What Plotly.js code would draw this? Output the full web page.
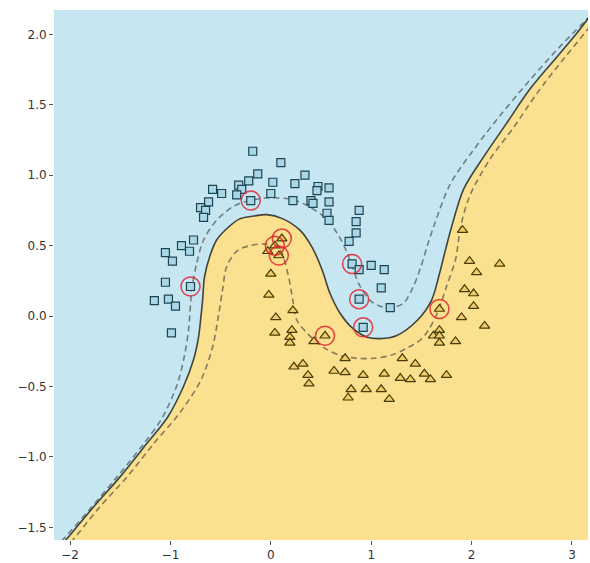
<!DOCTYPE html>
<html>
<head>
<meta charset="utf-8">
<script src="https://cdn.plot.ly/plotly-3.0.1.min.js"></script>
<style>html,body{margin:0;padding:0;background:#fff;}#chart{width:590px;height:563px;}</style>
</head>
<body>
<div id="chart"></div>
<script>
// Decision boundary (solid)
var bx = [-2.13,-2.03,-1.76,-1.50,-1.23,-1.03,-0.87,-0.77,-0.72,-0.70,-0.68,-0.66,-0.61,-0.54,-0.44,-0.31,-0.17,-0.04,0.12,0.29,0.41,0.51,0.59,0.69,0.82,0.96,1.09,1.25,1.46,1.60,1.68,1.74,1.80,1.92,2.12,2.35,2.58,2.85,3.05,3.20];
var by = [-1.66,-1.58,-1.35,-1.14,-0.90,-0.72,-0.50,-0.31,-0.15,-0.03,0.11,0.28,0.42,0.54,0.62,0.69,0.71,0.72,0.69,0.61,0.49,0.33,0.16,0.02,-0.09,-0.15,-0.16,-0.14,-0.03,0.11,0.30,0.47,0.63,0.90,1.13,1.37,1.61,1.84,2.01,2.15];
// Upper margin (dashed)
var ux = [-2.15,-2.06,-1.79,-1.53,-1.27,-1.08,-0.93,-0.86,-0.82,-0.80,-0.785,-0.74,-0.67,-0.54,-0.37,-0.21,-0.01,0.19,0.32,0.52,0.66,0.76,0.82,0.89,0.99,1.09,1.19,1.32,1.42,1.49,1.56,1.63,1.79,2.02,2.28,2.55,2.85,3.11,3.24];
var uy = [-1.65,-1.58,-1.36,-1.14,-0.91,-0.72,-0.48,-0.28,-0.10,0.08,0.20,0.37,0.54,0.68,0.78,0.82,0.84,0.83,0.80,0.71,0.59,0.45,0.33,0.21,0.11,0.07,0.06,0.09,0.21,0.34,0.50,0.65,0.94,1.18,1.42,1.65,1.89,2.08,2.17];
// Lower margin (dashed)
var lx = [-2.06,-1.96,-1.71,-1.43,-1.16,-0.91,-0.70,-0.58,-0.52,-0.48,-0.44,-0.34,-0.21,-0.04,0.09,0.17,0.22,0.26,0.36,0.52,0.69,0.86,1.02,1.19,1.35,1.49,1.57,1.67,1.75,1.84,1.89,1.98,2.18,2.42,2.65,2.91,3.15,3.28];
var ly = [-1.66,-1.58,-1.36,-1.14,-0.90,-0.69,-0.46,-0.22,0.01,0.19,0.35,0.46,0.50,0.51,0.47,0.30,0.11,-0.03,-0.12,-0.22,-0.28,-0.30,-0.30,-0.28,-0.23,-0.17,-0.10,0.04,0.21,0.40,0.63,0.85,1.11,1.34,1.58,1.82,2.03,2.16];

// Class 0 (squares)
var sqX = [-0.18,0.10,-0.13,-0.22,-0.32,-0.29,0.02,0.34,0.24,0.47,0.46,0.58,0.00,-0.58,-0.49,-0.34,-0.20,0.22,0.40,0.42,0.58,-0.62,-0.70,-0.65,-0.67,0.56,0.58,-0.77,-0.89,-0.81,-1.05,-0.98,-1.05,-0.80,-1.16,-1.02,-0.95,-0.99,0.88,0.85,0.85,0.78,0.81,0.88,1.00,1.13,1.10,0.88,1.19,0.92];
var sqY = [1.17,1.09,1.01,0.96,0.93,0.90,0.95,1.00,0.94,0.92,0.89,0.91,0.87,0.90,0.87,0.86,0.82,0.82,0.82,0.80,0.81,0.81,0.77,0.75,0.70,0.73,0.68,0.54,0.50,0.46,0.45,0.39,0.24,0.21,0.11,0.12,0.07,-0.12,0.75,0.67,0.59,0.53,0.37,0.33,0.36,0.33,0.20,0.12,0.06,-0.08];
// Class 1 (triangles)
var trX = [0.11,0.04,-0.03,0.08,0.00,-0.02,0.22,0.05,0.04,0.21,0.19,0.19,0.43,0.54,0.74,0.23,0.32,0.37,0.38,0.63,0.74,0.92,0.80,0.95,0.77,1.13,1.10,1.18,1.31,1.44,1.29,1.39,1.53,1.59,1.75,1.68,1.91,1.98,2.28,2.05,1.93,2.02,2.02,1.90,2.13,1.68,1.62,1.68,1.68,1.84];
var trY = [0.55,0.50,0.46,0.43,0.30,0.15,0.04,-0.01,-0.12,-0.10,-0.15,-0.19,-0.18,-0.14,-0.30,-0.36,-0.34,-0.42,-0.48,-0.39,-0.40,-0.42,-0.52,-0.52,-0.58,-0.41,-0.52,-0.59,-0.30,-0.34,-0.44,-0.45,-0.41,-0.45,-0.42,0.05,0.61,0.39,0.37,0.31,0.19,0.16,0.07,-0.01,-0.07,-0.10,-0.14,-0.14,-0.19,-0.18];
// Support vectors
var svX = [-0.20,-0.80,0.81,0.88,0.92,0.11,0.04,0.08,0.54,1.68];
var svY = [0.82,0.21,0.37,0.12,-0.08,0.55,0.50,0.43,-0.14,0.05];

var xr = [-2.16, 3.16];
var yr = [-1.59, 2.173];

var fx = bx.concat([xr[1] + 1, xr[1] + 1, xr[0] - 1]);
var fy = by.concat([yr[1] + 1, yr[0] - 1, yr[0] - 1]);

var sm = 0.9;
var traces = [
  {x: fx, y: fy, mode: 'lines', fill: 'toself', fillcolor: '#fbe08f', line: {width: 0, shape: 'spline', smoothing: sm}, hoverinfo: 'skip'},
  {x: ux, y: uy, mode: 'lines', line: {color: 'rgba(40,40,40,0.55)', width: 1.6, dash: '6px,4px', shape: 'spline', smoothing: sm}},
  {x: lx, y: ly, mode: 'lines', line: {color: 'rgba(40,40,40,0.55)', width: 1.6, dash: '6px,4px', shape: 'spline', smoothing: sm}},
  {x: bx, y: by, mode: 'lines', line: {color: 'rgba(35,40,35,0.85)', width: 1.6, shape: 'spline', smoothing: sm}},
  {x: sqX, y: sqY, mode: 'markers', marker: {symbol: 'square', size: 8, color: '#a9d7e8', line: {color: '#1d4550', width: 1.2}}},
  {x: trX, y: trY, mode: 'markers', marker: {symbol: 'triangle-up', size: 9, color: '#eccf6a', line: {color: '#4a3c0a', width: 1.2}}},
  {x: svX, y: svY, mode: 'markers', marker: {symbol: 'circle-open', size: 19, color: 'rgba(225,35,45,0.85)', line: {color: 'rgba(225,35,45,0.85)', width: 1.5}}}
];

var layout = {
  width: 590, height: 563,
  margin: {l: 54, r: 2, t: 10, b: 23},
  paper_bgcolor: '#ffffff',
  plot_bgcolor: '#c6e6f2',
  showlegend: false,
  font: {family: 'DejaVu Sans, sans-serif', size: 12, color: '#333'},
  xaxis: {range: xr, tickvals: [-2,-1,0,1,2,3], showgrid: false, zeroline: false, showline: false,
          ticks: 'outside', ticklen: 4, tickcolor: '#555', tickwidth: 1},
  yaxis: {range: yr, tickvals: [-1.5,-1.0,-0.5,0.0,0.5,1.0,1.5,2.0], tickformat: '.1f', showgrid: false, zeroline: false, showline: false,
          ticks: 'outside', ticklen: 4, tickcolor: '#555', tickwidth: 1}
};

Plotly.newPlot('chart', traces, layout, {displayModeBar: false, staticPlot: true});
</script>
</body>
</html>
